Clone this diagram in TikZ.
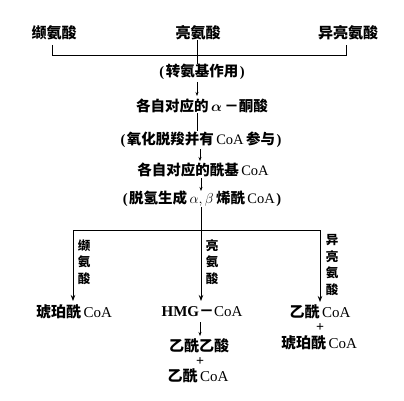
\documentclass[tikz,border=0pt]{standalone}
\usepackage{fontspec}
\usepackage{amsmath,amssymb}
\usepackage{bm}
\setmainfont{Liberation Serif}
\newfontfamily\cjk{Noto Sans CJK SC}
\newcommand\zh[1]{{\cjk\bfseries #1}}
\newcommand\lp{\textbf{(}\kern1.5pt}
\newcommand\rp{\kern1.5pt\textbf{)}}
\usetikzlibrary{arrows.meta}
\begin{document}
\begin{tikzpicture}[x=1pt,y=-1pt,
  top/.style={inner sep=0pt,font=\fontsize{15}{16}\selectfont},
  txt/.style={inner sep=0pt,font=\fontsize{14.5}{16}\selectfont},
  bot/.style={inner sep=0pt,font=\fontsize{15}{16}\selectfont},
  plus/.style={inner sep=0pt,font=\fontsize{14}{14}\selectfont\bfseries},
  vlab/.style={inner sep=0pt,font=\fontsize{12.5}{16.5}\selectfont,align=center},
  ln/.style={line width=0.8pt},
  big/.style={ln,-{Stealth[length=6pt,width=4.5pt]}},
  small/.style={line width=0.6pt,-{Stealth[length=4pt,width=3pt]}}]
\useasboundingbox[fill=white] (0,0) rectangle (404,401);
% top row
\node[top] (val) at (54,33) {\zh{缬氨酸}};
\node[top] (leu) at (198,33) {\zh{亮氨酸}};
\node[top] (ile) at (348,33) {\zh{异亮氨酸}};
\coordinate (bl) at (52,55);
\coordinate (br) at (346,55);
\coordinate (bc) at (197,55);
\draw[ln] (52,45) -- (bl) -- (br) -- (346,45);
% chain
\node[txt] (s1) at (202,72) {\lp\zh{转氨基作用}\rp};
\node[txt] (s2) at (202,106) {\zh{各自对应的}\,$\bm{\alpha}$\,\zh{－酮酸}};
\node[txt] (s3) at (201,140) {\lp\zh{氧化脱羧并有}\,CoA\,\zh{参与}\rp};
\node[txt] (s4) at (203,170) {\zh{各自对应的酰基}\,CoA};
\node[txt] (s5) at (202,199) {\lp\zh{脱氢生成}\,$\alpha,\beta$\,\zh{烯酰}\,CoA\rp};
\draw[ln] (leu.south -| bc) -- (s1.north -| bc);
\draw[small] (197,82) -- (197,96);
\draw[ln] (s2.south -| bc) -- (197,131);
\draw[small] (200,149) -- (200,161);
\draw[small] (201,178) -- (201,191);
% split
\coordinate (hl) at (73,230);
\coordinate (hc) at (201,230);
\coordinate (hr) at (320,230);
\draw[ln] (s5.south -| hc) -- (hc);
\draw[ln] (hl) -- (hr);
\node[bot] (p1) at (74,312) {\zh{琥珀酰}\,CoA};
\node[bot] (p2) at (202,312) {\textbf{HMG}\zh{－}CoA};
\node[bot] (p3) at (320,312) {\zh{乙酰}\,CoA};
\draw[big] (hl) -- (73,301);
\draw[big] (hc) -- (201,301);
\draw[big] (hr) -- (320,302);
\node[vlab] (l1) at (84,262) {\zh{缬}\\\zh{氨}\\\zh{酸}};
\node[vlab] (l2) at (212,262) {\zh{亮}\\\zh{氨}\\\zh{酸}};
\node[vlab] (l3) at (332,265) {\zh{异}\\\zh{亮}\\\zh{氨}\\\zh{酸}};
% bottom
\node[bot] (q1) at (199,346) {\zh{乙酰乙酸}};
\node[plus] (q2) at (200,361.5) {+};
\node[bot] (q3) at (198,376) {\zh{乙酰}\,CoA};
\draw[small] (200,322) -- (200,336);
\node[plus] (r1) at (320,328) {+};
\node[bot] (r2) at (319,343) {\zh{琥珀酰}\,CoA};
\end{tikzpicture}
\end{document}
